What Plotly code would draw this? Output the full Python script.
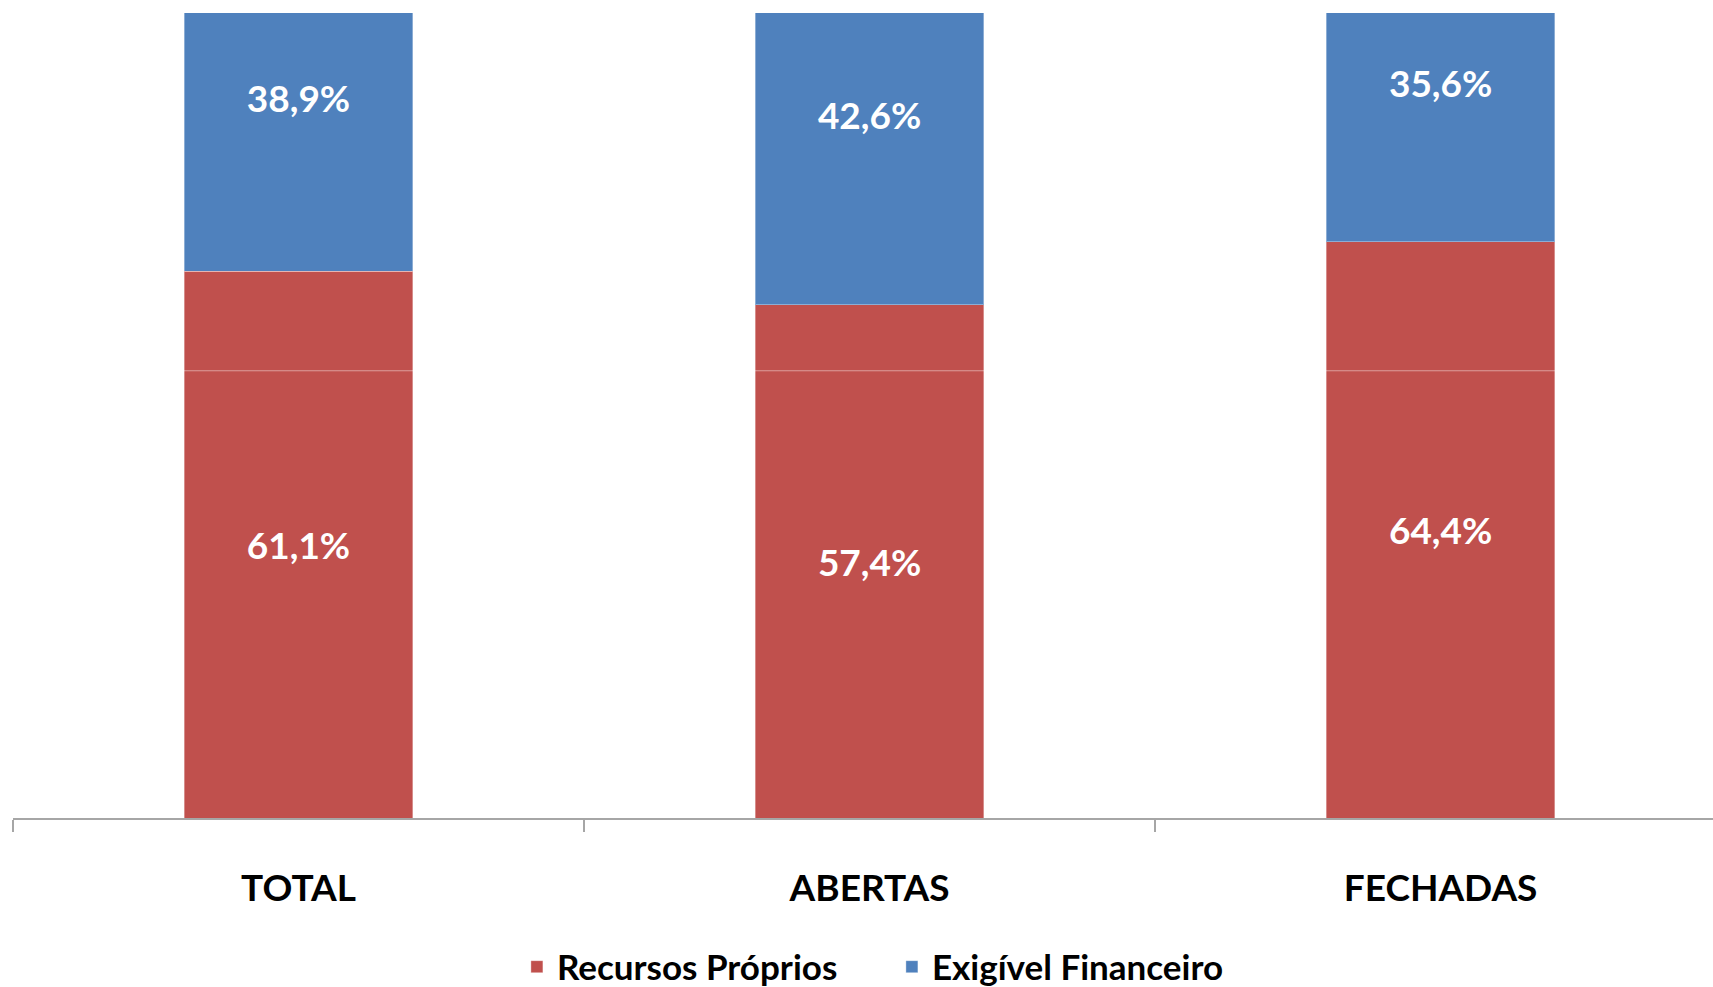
import plotly.graph_objects as go

# Capital structure by fund type (share of total, %)
categorias = ["TOTAL", "ABERTAS", "FECHADAS"]
recursos_proprios = [61.1, 57.4, 64.4]
exigivel_financeiro = [38.9, 42.6, 35.6]

cor_recursos = "#C0504D"
cor_exigivel = "#4F81BD"
fonte = "Lato"


def rotulo(v):
    return f"{v:.1f}".replace(".", ",") + "%"


fig = go.Figure()
for nome, valores, cor in [
    ("Recursos Próprios", recursos_proprios, cor_recursos),
    ("Exigível Financeiro", exigivel_financeiro, cor_exigivel),
]:
    fig.add_trace(go.Bar(
        x=categorias,
        y=[v / 100 for v in valores],
        name=nome,
        marker=dict(color=cor, line=dict(color="rgba(255,255,255,0.35)", width=1)),
        text=[rotulo(v) for v in valores],
        textposition="inside",
        insidetextanchor="middle",
        textangle=0,
        constraintext="none",
        textfont=dict(family=fonte, size=37, color="white", weight="bold"),
        width=0.4,
    ))

fig.update_layout(
    barmode="stack",
    width=1713,
    height=987,
    margin=dict(l=13, r=0, t=13, b=169, autoexpand=False),
    paper_bgcolor="white",
    plot_bgcolor="white",
    showlegend=True,
    legend=dict(
        orientation="h",
        x=0.517,
        xanchor="center",
        y=-0.185,
        yanchor="middle",
        font=dict(family=fonte, size=35, color="black", weight="bold"),
        entrywidth=330,
        traceorder="normal",
    ),
    xaxis=dict(
        range=[-0.5, 2.477],
        showline=True,
        linecolor="#A6A6A6",
        linewidth=1.5,
        ticks="outside",
        tickson="boundaries",
        ticklen=12,
        tickcolor="#A6A6A6",
        tickwidth=1.5,
        tickfont=dict(family=fonte, size=37, color="black", weight="bold"),
        ticklabelstandoff=37,
        showgrid=False,
        zeroline=False,
        fixedrange=True,
    ),
    yaxis=dict(
        range=[0, 0.90],
        visible=False,
        showgrid=False,
        zeroline=False,
        fixedrange=True,
    ),
    shapes=[dict(
        type="line", xref="paper", yref="y",
        x0=0, x1=1, y0=0.5, y1=0.5,
        line=dict(color="rgba(255,255,255,0.45)", width=1),
        layer="above",
    )],
)

fig.write_html("out.html")
